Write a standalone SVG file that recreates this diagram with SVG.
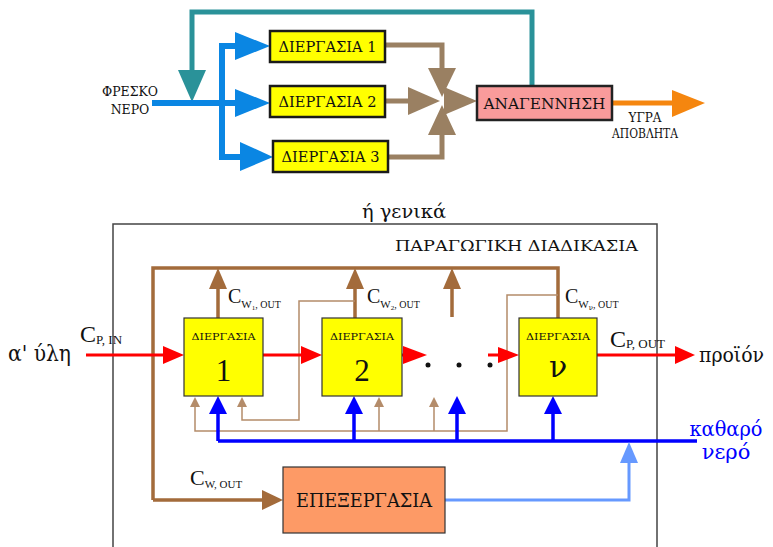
<svg xmlns="http://www.w3.org/2000/svg" width="773" height="547" viewBox="0 0 773 547">
<style>
text{font-family:"DejaVu Serif","Liberation Serif",serif;fill:#111}
.lat{font-family:"Liberation Serif","DejaVu Serif",serif}
.tb{fill:#ffff00;stroke:#1a1a1a;stroke-width:2.5}
.pb{fill:#ffff00;stroke:#333;stroke-width:1.2}
.blue{stroke:#0a86e3;stroke-width:6;fill:none}
.teal{stroke:#2a9299;stroke-width:5;fill:none}
.br{stroke:#9a8062;stroke-width:5;fill:none}
.or{stroke:#f5860f;stroke-width:5;fill:none}
.bt{stroke:#a36b3b;stroke-width:3.5;fill:none}
.bn{stroke:#b48c6a;stroke-width:1.5;fill:none}
.bl{stroke:#0000ff;stroke-width:3.5;fill:none}
.lb{stroke:#6699ff;stroke-width:3;fill:none}
.rd{stroke:#ff0000;stroke-width:3;fill:none}
</style>
<rect width="773" height="547" fill="#fff"/>
<g id="connectors">
  <path class="teal" d="M532,86 V12 H192 V75"/>
  <polygon fill="#2a9299" points="178,70 206,70 192,102"/>
  <path class="blue" d="M152,103 H240 M222,103 V46 H240 M222,103 V157 H244"/>
  <polygon fill="#0a86e3" points="235,32 270,46 235,60"/>
  <polygon fill="#0a86e3" points="235,89 270,103 235,117"/>
  <polygon fill="#0a86e3" points="240,142 273,157 240,171"/>
  <path class="br" d="M385,45 H442 V70 M385,101 H410 M388,157 H442 V135"/>
  <polygon fill="#9a8062" points="428,68 456,68 442,97"/>
  <polygon fill="#9a8062" points="408,87 408,115 440,101"/>
  <polygon fill="#9a8062" points="428,135 456,135 442,105"/>
  <polygon fill="#9a8062" points="444,87 444,115 477,101"/>
  <path class="or" d="M612,103 H675"/>
  <polygon fill="#f5860f" points="672,90 705,103 672,117"/>
  <path d="M113,560 V224 H657 V560" fill="none" stroke="#444" stroke-width="1.5"/>
  <path class="bt" d="M153,500 V268 H558 V318 M153,500 H265 M218,318 V288 M355,318 V288 M452,317 V288"/>
  <polygon fill="#a36b3b" points="262,490 262,510 283,500"/>
  <polygon fill="#a36b3b" points="209,289 227,289 218,268"/>
  <polygon fill="#a36b3b" points="346,289 364,289 355,268"/>
  <polygon fill="#a36b3b" points="443,289 461,289 452,268"/>
  <path class="bn" d="M355,301 H299 V420 H242 V405 M558,295 H507 V431 H195 V405 M379,431 V405 M434,431 V405"/>
  <polygon fill="#b48c6a" points="237,407 247,407 242,397"/>
  <polygon fill="#b48c6a" points="190,407 200,407 195,397"/>
  <polygon fill="#b48c6a" points="374,407 384,407 379,397"/>
  <polygon fill="#b48c6a" points="429,407 439,407 434,397"/>
  <path class="bl" d="M218,441 H697 M218,441 V410 M354,441 V410 M457,441 V410 M553,441 V410"/>
  <polygon fill="#0000ff" points="209,414 227,414 218,396"/>
  <polygon fill="#0000ff" points="345,414 363,414 354,396"/>
  <polygon fill="#0000ff" points="448,414 466,414 457,396"/>
  <polygon fill="#0000ff" points="544,414 562,414 553,396"/>
  <path class="lb" d="M445,500 H629 V460"/>
  <polygon fill="#6699ff" points="620,463 638,463 629,442"/>
  <path class="rd" d="M86,355 H165 M263,355 H303 M402,355 H405 M488,355 H500 M597,355 H677"/>
  <polygon fill="#ff0000" points="163,346 163,364 184,355"/>
  <polygon fill="#ff0000" points="301,346 301,364 322,355"/>
  <polygon fill="#ff0000" points="403,346 403,364 427,355"/>
  <polygon fill="#ff0000" points="498,347 498,363 519,355"/>
  <polygon fill="#ff0000" points="675,346 675,364 695,355"/>
  <circle cx="428" cy="365" r="2.5" fill="#111"/>
  <circle cx="459" cy="365" r="2.5" fill="#111"/>
  <circle cx="490" cy="365" r="2.5" fill="#111"/>
</g>
<g id="fresh-water"><text x="130" y="96" font-size="12.5" text-anchor="middle" textLength="56" lengthAdjust="spacingAndGlyphs">ΦΡΕΣΚΟ</text><text x="130" y="114" font-size="12.5" text-anchor="middle">ΝΕΡΟ</text></g>
<g id="d1"><rect class="tb" x="270" y="31" width="115" height="31"/><text x="327.5" y="52" font-size="14" text-anchor="middle" textLength="98" lengthAdjust="spacingAndGlyphs">ΔΙΕΡΓΑΣΙΑ 1</text></g>
<g id="d2"><rect class="tb" x="270" y="86" width="115" height="31"/><text x="327.5" y="107" font-size="14" text-anchor="middle" textLength="98" lengthAdjust="spacingAndGlyphs">ΔΙΕΡΓΑΣΙΑ 2</text></g>
<g id="d3"><rect class="tb" x="273" y="141" width="115" height="31"/><text x="330.5" y="162" font-size="14" text-anchor="middle" textLength="98" lengthAdjust="spacingAndGlyphs">ΔΙΕΡΓΑΣΙΑ 3</text></g>
<g id="regen"><rect x="477" y="86" width="135" height="34" fill="#f99b9b" stroke="#222" stroke-width="2.5"/><text x="544.5" y="109" font-size="15" text-anchor="middle" textLength="122" lengthAdjust="spacingAndGlyphs">ΑΝΑΓΕΝΝΗΣΗ</text></g>
<g id="waste"><text x="645" y="122" font-size="12" text-anchor="middle">ΥΓΡΑ</text><text x="645" y="138" font-size="12" text-anchor="middle" textLength="66" lengthAdjust="spacingAndGlyphs">ΑΠΟΒΛΗΤΑ</text></g>

<text x="404" y="218" font-size="19" text-anchor="middle" textLength="84" lengthAdjust="spacingAndGlyphs">ή γενικά</text>
<text x="638" y="251" font-size="15.5" text-anchor="end" textLength="243" lengthAdjust="spacingAndGlyphs">ΠΑΡΑΓΩΓΙΚΗ ΔΙΑΔΙΚΑΣΙΑ</text>

<g id="p1"><rect class="pb" x="184" y="318" width="79" height="78"/><text x="223.5" y="340" font-size="10" text-anchor="middle" textLength="64" lengthAdjust="spacingAndGlyphs">ΔΙΕΡΓΑΣΙΑ</text><text class="lat" x="223.5" y="381" font-size="31" text-anchor="middle">1</text></g>
<g id="p2"><rect class="pb" x="322" y="318" width="80" height="78"/><text x="362" y="340" font-size="10" text-anchor="middle" textLength="64" lengthAdjust="spacingAndGlyphs">ΔΙΕΡΓΑΣΙΑ</text><text class="lat" x="362" y="381" font-size="31" text-anchor="middle">2</text></g>
<g id="pn"><rect class="pb" x="519" y="318" width="78" height="78"/><text x="558" y="340" font-size="10" text-anchor="middle" textLength="64" lengthAdjust="spacingAndGlyphs">ΔΙΕΡΓΑΣΙΑ</text><text x="558" y="377" font-size="30" text-anchor="middle">ν</text></g>
<g id="treat"><rect x="283" y="467" width="162" height="66" fill="#fd9a66" stroke="#333" stroke-width="1.2"/><text x="364" y="507" font-size="19" text-anchor="middle" textLength="136" lengthAdjust="spacingAndGlyphs">ΕΠΕΞΕΡΓΑΣΙΑ</text></g>

<g id="labels">
  <text x="8" y="361" font-size="22" textLength="63" lengthAdjust="spacingAndGlyphs">α' ύλη</text>
  <text x="699" y="362" font-size="21" textLength="65" lengthAdjust="spacingAndGlyphs">προϊόν</text>
  <text x="726" y="436" font-size="21" text-anchor="middle" textLength="73" lengthAdjust="spacingAndGlyphs" style="fill:#0000ff">καθαρό</text>
  <text x="726" y="459" font-size="21" text-anchor="middle" style="fill:#0000ff">νερό</text>
  <text class="lat" x="80" y="342" font-size="24">C<tspan font-size="13" dy="2">P, IN</tspan></text>
  <text class="lat" x="610" y="347" font-size="24">C<tspan font-size="13" dy="1">P, OUT</tspan></text>
  <text class="lat" x="228" y="303" font-size="20">C<tspan font-size="11" dy="5">W</tspan><tspan font-size="7" dy="2">1</tspan><tspan font-size="10" dy="-2">, OUT</tspan></text>
  <text class="lat" x="367" y="303" font-size="20">C<tspan font-size="11" dy="5">W</tspan><tspan font-size="7" dy="2">2</tspan><tspan font-size="10" dy="-2">, OUT</tspan></text>
  <text class="lat" x="565" y="303" font-size="20">C<tspan font-size="11" dy="5">W</tspan><tspan font-size="7" dy="2" style="font-family:'DejaVu Serif',serif">ν</tspan><tspan font-size="10" dy="-2">, OUT</tspan></text>
  <text class="lat" x="190" y="485" font-size="22">C<tspan font-size="11" dy="3">W, OUT</tspan></text>
</g>
</svg>
